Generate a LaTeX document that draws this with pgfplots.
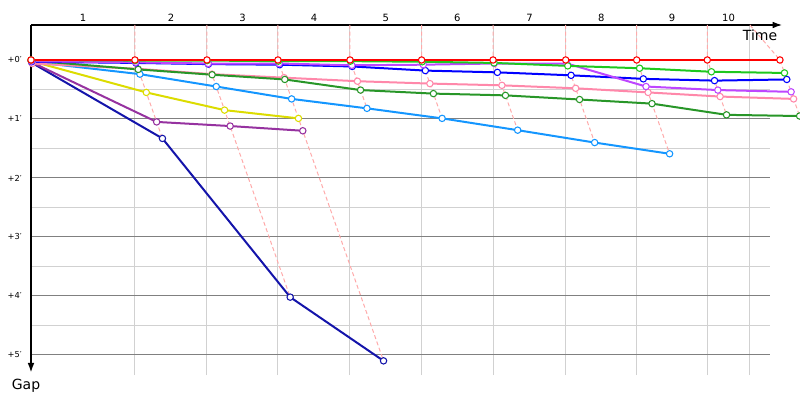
\documentclass[border=0pt]{standalone}
\usepackage{fontspec}
\setmainfont{DejaVu Sans}
\usepackage{pgfplots}
\pgfplotsset{compat=1.18}
\usetikzlibrary{arrows.meta}
\definecolor{cRed}{RGB}{255,0,0}
\definecolor{cLime}{RGB}{30,200,30}
\definecolor{cBlue}{RGB}{0,0,255}
\definecolor{cMag}{RGB}{190,70,255}
\definecolor{cPink}{RGB}{255,136,170}
\definecolor{cDkGreen}{RGB}{40,150,40}
\definecolor{cLtBlue}{RGB}{20,150,255}
\definecolor{cYellow}{RGB}{220,220,0}
\definecolor{cPurple}{RGB}{150,50,160}
\definecolor{cDkBlue}{RGB}{20,20,170}
\definecolor{cDash}{RGB}{255,170,170}
\begin{document}
\begin{tikzpicture}
\useasboundingbox (0,0) rectangle (600pt,300pt);
\begin{axis}[
  at={(23.25pt,18.75pt)}, anchor=south west,
  width=554.25pt, height=262.5pt, scale only axis,
  xmin=0, xmax=35.70, ymin=-5.34, ymax=0.593,
  axis x line*=top, axis y line*=left,
  x axis line style={-{Latex[length=7pt,width=5pt]}, shorten >=-9pt, line width=0.9pt},
  y axis line style={{Latex[length=7pt,width=5pt]}-, shorten <=2pt, line width=0.9pt},
  xtick={2.51,6.76,10.22,13.67,17.14,20.60,24.08,27.55,30.97,33.70},
  xticklabels={1,2,3,4,5,6,7,8,9,10},
  minor xtick={5.02,8.50,11.93,15.41,18.87,22.32,25.83,29.26,32.67,34.73},
  ytick={-5,-4,-3,-2,-1,0},
  yticklabels={+5′,+4′,+3′,+2′,+1′,+0′},
  minor ytick={-4.5,-3.5,-2.5,-1.5,-0.5},
  xmajorgrids=false, xminorgrids=true, ymajorgrids=true, yminorgrids=true,
  major grid style={draw=black!50, line width=0.75pt},
  minor grid style={draw=black!18, line width=0.75pt},
  major tick length=0pt, minor tick length=0pt,
  xticklabel style={font=\fontsize{7.5}{9}\selectfont, inner sep=0pt, yshift=2.25pt},
  yticklabel style={font=\fontsize{6.2}{7}\selectfont, inner sep=0pt, xshift=-6.75pt},
  clip=false,
  every axis plot/.append style={line width=1.5pt, mark=*, mark size=2.4pt, mark options={solid, fill=white, line width=0.8pt}},
]
% lap crossing connectors
\addplot[cDash, dash pattern=on 3pt off 2pt, line width=0.75pt, mark=none] coordinates {(5.02,0.593) (5.02,0) (6.35,-1.33)};
\addplot[cDash, dash pattern=on 3pt off 2pt, line width=0.75pt, mark=none] coordinates {(8.50,0.593) (8.50,0) (12.52,-4.02)};
\addplot[cDash, dash pattern=on 3pt off 2pt, line width=0.75pt, mark=none] coordinates {(11.93,0.593) (11.93,0) (17.03,-5.10)};
\addplot[cDash, dash pattern=on 3pt off 2pt, line width=0.75pt, mark=none] coordinates {(15.41,0.593) (15.41,0) (16.23,-0.82)};
\addplot[cDash, dash pattern=on 3pt off 2pt, line width=0.75pt, mark=none] coordinates {(18.87,0.593) (18.87,0) (19.86,-0.99)};
\addplot[cDash, dash pattern=on 3pt off 2pt, line width=0.75pt, mark=none] coordinates {(22.32,0.593) (22.32,0) (23.51,-1.19)};
\addplot[cDash, dash pattern=on 3pt off 2pt, line width=0.75pt, mark=none] coordinates {(25.83,0.593) (25.83,0) (27.23,-1.40)};
\addplot[cDash, dash pattern=on 3pt off 2pt, line width=0.75pt, mark=none] coordinates {(29.26,0.593) (29.26,0) (30.85,-1.59)};
\addplot[cDash, dash pattern=on 3pt off 2pt, line width=0.75pt, mark=none] coordinates {(32.67,0.593) (32.67,0) (33.60,-0.93)};
\addplot[cDash, dash pattern=on 3pt off 2pt, line width=0.75pt, mark=none] coordinates {(34.73,0.593) (36.18,0) (37.13,-0.95) (37.60,-1.45)};
% riders
\addplot[cDkBlue] coordinates {(0.05,-0.05) (6.35,-1.33) (12.52,-4.02) (17.03,-5.10)};
\addplot[cPurple] coordinates {(0.04,-0.04) (6.07,-1.05) (9.62,-1.12) (13.13,-1.20)};
\addplot[cYellow] coordinates {(0.02,-0.02) (5.57,-0.55) (9.35,-0.85) (12.92,-0.99)};
\addplot[cLtBlue] coordinates {(0.03,-0.03) (5.26,-0.24) (8.95,-0.45) (12.59,-0.66) (16.23,-0.82) (19.86,-0.99) (23.51,-1.19) (27.23,-1.40) (30.85,-1.59)};
\addplot[cPink] coordinates {(0.06,-0.06) (5.17,-0.15) (8.74,-0.24) (12.23,-0.30) (15.77,-0.36) (19.27,-0.40) (22.75,-0.43) (26.31,-0.48) (29.81,-0.55) (33.29,-0.62) (36.84,-0.66)};
\addplot[cDkGreen] coordinates {(0.01,-0.01) (5.18,-0.16) (8.75,-0.25) (12.26,-0.33) (15.92,-0.51) (19.44,-0.57) (22.92,-0.60) (26.50,-0.67) (30.00,-0.74) (33.60,-0.93) (37.13,-0.95)};
\addplot[cBlue] coordinates {(0.03,-0.03) (5.07,-0.05) (8.57,-0.07) (12.01,-0.08) (15.52,-0.11) (19.05,-0.18) (22.53,-0.21) (26.09,-0.26) (29.58,-0.32) (33.02,-0.35) (36.51,-0.33)};
\addplot[cMag] coordinates {(0.02,-0.02) (5.06,-0.04) (8.56,-0.06) (11.99,-0.06) (15.50,-0.09) (18.95,-0.08) (22.38,-0.06) (25.89,-0.06) (29.71,-0.45) (33.18,-0.51) (36.72,-0.54)};
\addplot[cLime] coordinates {(0,0) (5.03,-0.01) (8.51,-0.01) (11.95,-0.02) (15.43,-0.02) (18.90,-0.03) (22.37,-0.05) (25.93,-0.10) (29.40,-0.14) (32.87,-0.20) (36.40,-0.22)};
\addplot[cRed] coordinates {(0,0) (5.02,0) (8.50,0) (11.93,0) (15.41,0) (18.87,0) (22.32,0) (25.83,0) (29.26,0) (32.67,0) (36.18,0)};
\end{axis}
\node[font=\fontsize{10.5}{12}\selectfont] at (570pt,273.75pt) {Time};
\node[font=\fontsize{10.5}{12}\selectfont] at (19.5pt,10.5pt) {Gap};
\end{tikzpicture}
\end{document}
